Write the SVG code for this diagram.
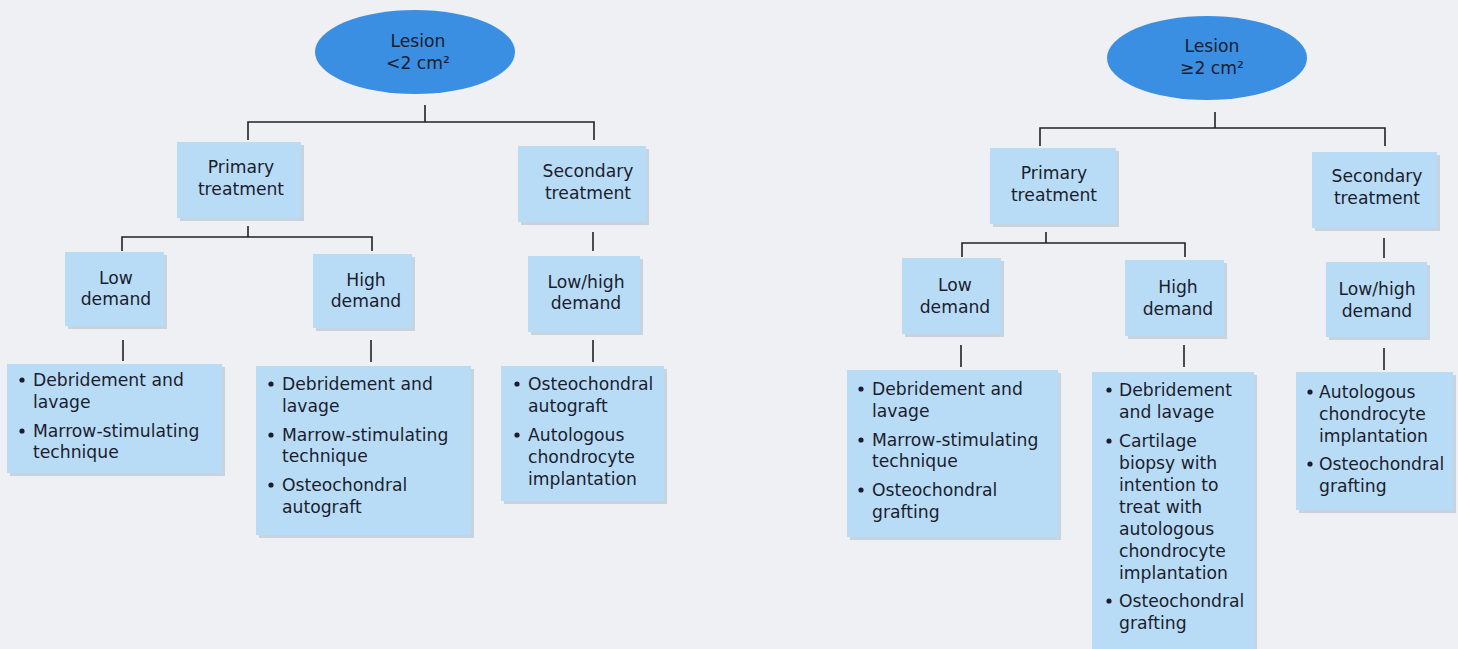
<svg xmlns="http://www.w3.org/2000/svg" width="1458" height="649" viewBox="0 0 1458 649">
<defs>
<style>
.bg{fill:#eef0f4}
.box{fill:#b9dcf6}
.sh{fill:#9fb6c9;opacity:0.5}
.ell{fill:#3a8fe2}
.ln{stroke:#222;stroke-width:1.6;fill:none}
.b{fill:#1b1d2e}
text{font-family:"DejaVu Sans","Open Sans","Liberation Sans",sans-serif;font-size:17.2px;fill:#1b1d2e}
.c{text-anchor:middle}
</style>
</defs>
<rect class="bg" x="0" y="0" width="1458" height="649"/>

<g id="connectors">
<path class="ln" d="M425 105V122M248 140V122H594V140"/>
<path class="ln" d="M248 226V237M122 251V237H372V251"/>
<path class="ln" d="M593 232V251"/>
<path class="ln" d="M123 340V361M371 340V362M593 340V362"/>
<path class="ln" d="M1215 112V128M1040 146V128H1385V146"/>
<path class="ln" d="M1046 232V243M962 257V243H1185V257"/>
<path class="ln" d="M1384 238V258"/>
<path class="ln" d="M961 345V367M1184 345V367M1384 348V370"/>
</g>

<g id="lesion-small">
<ellipse class="ell" cx="415" cy="52" rx="100" ry="42"/>
<text class="c" x="418" y="47">Lesion</text>
<text class="c" x="418" y="69">&lt;2 cm²</text>
</g>
<g id="primary-small">
<rect class="sh" x="180" y="145" width="124" height="76"/>
<rect class="box" x="177" y="142" width="124" height="76"/>
<text class="c" x="241" y="173">Primary</text>
<text class="c" x="241" y="195">treatment</text>
</g>
<g id="secondary-small">
<rect class="sh" x="521" y="149" width="128" height="76"/>
<rect class="box" x="518" y="146" width="128" height="76"/>
<text class="c" x="588" y="177">Secondary</text>
<text class="c" x="588" y="199">treatment</text>
</g>
<g id="low-small">
<rect class="sh" x="68" y="255" width="99" height="74"/>
<rect class="box" x="65" y="252" width="99" height="74"/>
<text class="c" x="116" y="284">Low</text>
<text class="c" x="116" y="305">demand</text>
</g>
<g id="high-small">
<rect class="sh" x="316" y="257" width="99" height="74"/>
<rect class="box" x="313" y="254" width="99" height="74"/>
<text class="c" x="366" y="286">High</text>
<text class="c" x="366" y="307">demand</text>
</g>
<g id="lowhigh-small">
<rect class="sh" x="531" y="259" width="112" height="76"/>
<rect class="box" x="528" y="256" width="112" height="76"/>
<text class="c" x="586" y="288">Low/high</text>
<text class="c" x="586" y="309">demand</text>
</g>
<g id="low-small-tx">
<rect class="sh" x="10" y="367" width="215" height="109"/>
<rect class="box" x="7" y="364" width="215" height="109"/>
<circle class="b" cx="22" cy="380" r="2.6"/><text x="33" y="386">Debridement and</text>
<text x="33" y="408">lavage</text>
<circle class="b" cx="22" cy="431" r="2.6"/><text x="33" y="437">Marrow-stimulating</text>
<text x="33" y="458">technique</text>
</g>
<g id="high-small-tx">
<rect class="sh" x="259" y="369" width="215" height="169"/>
<rect class="box" x="256" y="366" width="215" height="169"/>
<circle class="b" cx="271" cy="384" r="2.6"/><text x="282" y="390">Debridement and</text>
<text x="282" y="412">lavage</text>
<circle class="b" cx="271" cy="435" r="2.6"/><text x="282" y="441">Marrow-stimulating</text>
<text x="282" y="462">technique</text>
<circle class="b" cx="271" cy="485" r="2.6"/><text x="282" y="491">Osteochondral</text>
<text x="282" y="513">autograft</text>
</g>
<g id="lowhigh-small-tx">
<rect class="sh" x="504" y="369" width="163" height="135"/>
<rect class="box" x="501" y="366" width="163" height="135"/>
<circle class="b" cx="517" cy="384" r="2.6"/><text x="528" y="390">Osteochondral</text>
<text x="528" y="412">autograft</text>
<circle class="b" cx="517" cy="435" r="2.6"/><text x="528" y="441">Autologous</text>
<text x="528" y="463">chondrocyte</text>
<text x="528" y="485">implantation</text>
</g>

<g id="lesion-large">
<ellipse class="ell" cx="1207" cy="58" rx="100" ry="42"/>
<text class="c" x="1212" y="52">Lesion</text>
<text class="c" x="1212" y="74">≥2 cm²</text>
</g>
<g id="primary-large">
<rect class="sh" x="993" y="151" width="126" height="76"/>
<rect class="box" x="990" y="148" width="126" height="76"/>
<text class="c" x="1054" y="179">Primary</text>
<text class="c" x="1054" y="201">treatment</text>
</g>
<g id="secondary-large">
<rect class="sh" x="1315" y="155" width="125" height="76"/>
<rect class="box" x="1312" y="152" width="125" height="76"/>
<text class="c" x="1377" y="182">Secondary</text>
<text class="c" x="1377" y="204">treatment</text>
</g>
<g id="low-large">
<rect class="sh" x="905" y="261" width="99" height="76"/>
<rect class="box" x="902" y="258" width="99" height="76"/>
<text class="c" x="955" y="291">Low</text>
<text class="c" x="955" y="313">demand</text>
</g>
<g id="high-large">
<rect class="sh" x="1128" y="263" width="99" height="76"/>
<rect class="box" x="1125" y="260" width="99" height="76"/>
<text class="c" x="1178" y="293">High</text>
<text class="c" x="1178" y="315">demand</text>
</g>
<g id="lowhigh-large">
<rect class="sh" x="1329" y="265" width="101" height="75"/>
<rect class="box" x="1326" y="262" width="101" height="75"/>
<text class="c" x="1377" y="295">Low/high</text>
<text class="c" x="1377" y="317">demand</text>
</g>
<g id="low-large-tx">
<rect class="sh" x="850" y="373" width="211" height="167"/>
<rect class="box" x="847" y="370" width="211" height="167"/>
<circle class="b" cx="861" cy="389" r="2.6"/><text x="872" y="395">Debridement and</text>
<text x="872" y="417">lavage</text>
<circle class="b" cx="861" cy="440" r="2.6"/><text x="872" y="446">Marrow-stimulating</text>
<text x="872" y="467">technique</text>
<circle class="b" cx="861" cy="490" r="2.6"/><text x="872" y="496">Osteochondral</text>
<text x="872" y="518">grafting</text>
</g>
<g id="high-large-tx">
<rect class="sh" x="1095" y="375" width="162" height="280"/>
<rect class="box" x="1092" y="372" width="162" height="280"/>
<circle class="b" cx="1109" cy="390" r="2.6"/><text x="1119" y="396">Debridement</text>
<text x="1119" y="418">and lavage</text>
<circle class="b" cx="1109" cy="441" r="2.6"/><text x="1119" y="447">Cartilage</text>
<text x="1119" y="469">biopsy with</text>
<text x="1119" y="491">intention to</text>
<text x="1119" y="513">treat with</text>
<text x="1119" y="535">autologous</text>
<text x="1119" y="557">chondrocyte</text>
<text x="1119" y="579">implantation</text>
<circle class="b" cx="1109" cy="601" r="2.6"/><text x="1119" y="607">Osteochondral</text>
<text x="1119" y="629">grafting</text>
</g>
<g id="lowhigh-large-tx">
<rect class="sh" x="1299" y="375" width="157" height="138"/>
<rect class="box" x="1296" y="372" width="157" height="138"/>
<circle class="b" cx="1310" cy="392" r="2.6"/><text x="1319" y="398">Autologous</text>
<text x="1319" y="420">chondrocyte</text>
<text x="1319" y="442">implantation</text>
<circle class="b" cx="1310" cy="464" r="2.6"/><text x="1319" y="470">Osteochondral</text>
<text x="1319" y="492">grafting</text>
</g>
</svg>
